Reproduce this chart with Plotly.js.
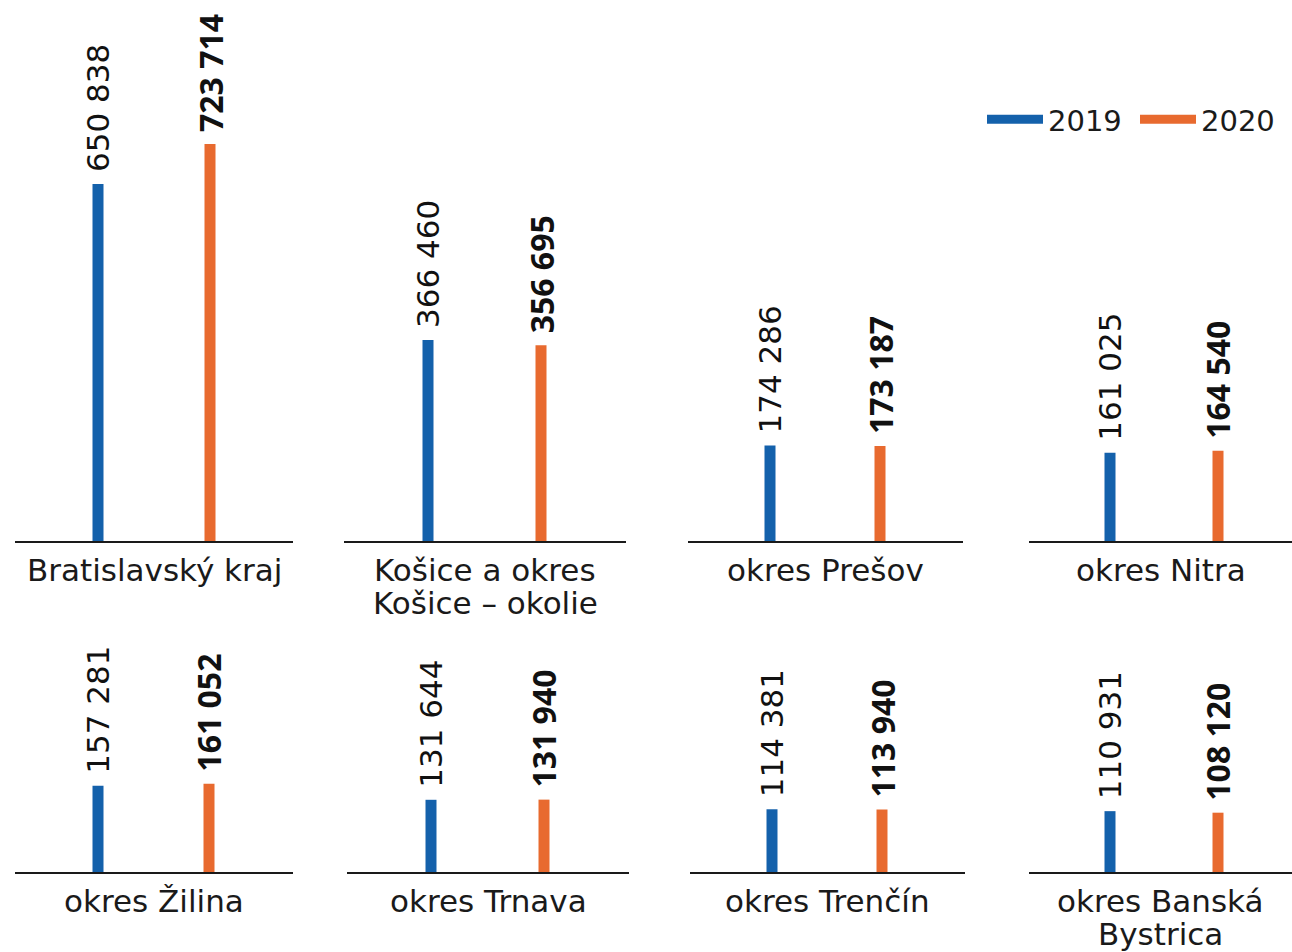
<!DOCTYPE html>
<html><head><meta charset="utf-8">
<script src="https://cdn.plot.ly/plotly-3.0.1.min.js"></script>
<style>body{margin:0;padding:0;background:#fff}#chart{width:1292px;height:952px}</style>
</head><body><div id="chart"></div>
<script>
// ---- data ----
const regions = ["Bratislavský kraj", "Košice a okres<br>Košice – okolie", "okres Prešov", "okres Nitra",
                 "okres Žilina", "okres Trnava", "okres Trenčín", "okres Banská<br>Bystrica"];
const years = ["2019", "2020"];
const values2019 = [650838, 366460, 174286, 161025, 157281, 131644, 114381, 110931];
const values2020 = [723714, 356695, 173187, 164540, 161052, 131940, 113940, 108120];

// ---- style / layout constants ----
const W = 1292, H = 952;
const BLUE = "#1461AB", ORANGE = "#E86A2F", INK = "#1a1a1a";
const FONT = "'DejaVu Sans', sans-serif";
const FONT_BOLD = "'Open Sans', sans-serif";
const unitsPerPx = 1823;
const rowBase = [541, 872], rowTop = [0, 620];
const domL = [[15, 344, 688, 1029], [15, 347, 690, 1029]];
const domR = [[293, 626, 963, 1292], [293, 629, 965, 1292]];
const barC = [[[98, 210], [428, 541], [770, 880], [1110, 1218]],
              [[98, 209], [431, 544], [772, 882], [1110, 1218]]];
const barPx = 11;
const lineGap = 33;

function fmt(n) { return String(n).replace(/\B(?=(\d{3})+(?!\d))/g, " "); }

const traces = [], annotations = [];
const layout = {
  width: W, height: H, margin: {l: 0, r: 0, t: 0, b: 0, autoexpand: false},
  paper_bgcolor: "#fff", plot_bgcolor: "rgba(0,0,0,0)",
  font: {family: FONT, color: INK, size: 28},
  showlegend: true,
  legend: {orientation: "h", x: 982 / W, y: 1 - 94 / H, xanchor: "left", yanchor: "top",
           font: {family: FONT, size: 29, color: INK}, itemwidth: 56, bgcolor: "rgba(0,0,0,0)",
           entrywidth: 82, entrywidthmode: "pixels", traceorder: "normal"},
  annotations: annotations
};

for (let i = 0; i < regions.length; i++) {
  const r = Math.floor(i / 4), c = i % 4, n = i + 1, sfx = n === 1 ? "" : String(n);
  const L = domL[r][c], R = domR[r][c], p0 = barC[r][c][0], p1 = barC[r][c][1];
  const pxPerUnit = p1 - p0;
  const a = -(p0 - L) / pxPerUnit, b = a + (R - L) / pxPerUnit;
  layout["xaxis" + sfx] = {domain: [L / W, R / W], range: [a, b], type: "linear", anchor: "y" + sfx,
                showline: true, linecolor: INK, linewidth: 2, showticklabels: false, ticks: "",
                showgrid: false, zeroline: false, fixedrange: true};
  layout["yaxis" + sfx] = {domain: [1 - rowBase[r] / H, 1 - rowTop[r] / H], range: [0, (rowBase[r] - rowTop[r]) * unitsPerPx],
                visible: false, fixedrange: true, anchor: "x" + sfx};
  const vals = [values2019[i], values2020[i]];
  const xs = years.map((y, j) => j);
  traces.push({type: "bar", x: xs, y: vals, width: barPx / pxPerUnit, name: regions[i],
               marker: {color: [BLUE, ORANGE], line: {width: 0}},
               xaxis: "x" + sfx, yaxis: "y" + sfx, showlegend: false, hoverinfo: "skip"});
  for (let j = 0; j < years.length; j++) {
    const bold = j === 1;
    annotations.push({xref: "x" + sfx, yref: "y" + sfx,
                      x: xs[j], y: vals[j], text: bold ? "<b>" + fmt(vals[j]) + "</b>" : fmt(vals[j]),
                      textangle: -90, xanchor: "center", yanchor: "bottom", yshift: 10, showarrow: false,
                      font: {family: bold ? FONT_BOLD : FONT, size: bold ? 32 : 31, color: "#111"}});
  }
  regions[i].split("<br>").forEach((line, k) => {
    annotations.push({xref: "x" + sfx + " domain", yref: "y" + sfx + " domain",
                      x: 0.5, y: 0, xanchor: "center", yanchor: "top", yshift: -9 - k * lineGap, showarrow: false,
                      text: line, font: {family: FONT, size: 31, color: INK}});
  });
}

traces.push({type: "scatter", mode: "lines", x: [null], y: [null], name: years[0], line: {color: BLUE, width: 9}, hoverinfo: "skip"});
traces.push({type: "scatter", mode: "lines", x: [null], y: [null], name: years[1], line: {color: ORANGE, width: 9}, hoverinfo: "skip"});

Plotly.newPlot("chart", traces, layout, {staticPlot: true, displayModeBar: false});
</script></body></html>
